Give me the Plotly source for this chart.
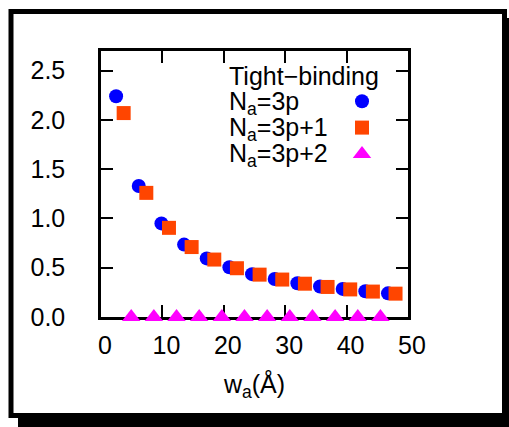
import plotly.graph_objects as go

# ---- data ----
w_3p = [2.46, 6.15, 9.84, 13.53, 17.22, 20.91, 24.60, 28.29, 31.98, 35.67, 39.36, 43.05, 46.74]
gap_3p = [2.24, 1.33, 0.95, 0.735, 0.595, 0.505, 0.435, 0.385, 0.343, 0.31, 0.285, 0.262, 0.24]

w_3p1 = [3.69, 7.38, 11.07, 14.76, 18.45, 22.14, 25.83, 29.52, 33.21, 36.90, 40.59, 44.28, 47.97]
gap_3p1 = [2.07, 1.26, 0.905, 0.71, 0.583, 0.495, 0.43, 0.38, 0.338, 0.305, 0.28, 0.258, 0.237]

w_3p2 = [4.92, 8.61, 12.30, 15.99, 19.68, 23.37, 27.06, 30.75, 34.44, 38.13, 41.82, 45.51]
gap_3p2 = [0.0, 0.0, 0.0, 0.0, 0.0, 0.0, 0.0, 0.0, 0.0, 0.0, 0.0, 0.0]

x_ticks = [0, 10, 20, 30, 40, 50]
y_ticks = [0.0, 0.5, 1.0, 1.5, 2.0, 2.5]

legend_title = "Tight\u2212binding"
series_labels = ["N<sub>a</sub>=3p", "N<sub>a</sub>=3p+1", "N<sub>a</sub>=3p+2"]

# ---- layout geometry ----
W, H = 509, 427
L, R, T, B = 101, 101, 51, 110
PW, PH = W - L - R, H - T - B
FONT = "Liberation Sans, Arial, sans-serif"


def px_x(px):
    return (px - L) / PW


def px_y(py):
    return (H - B - py) / PH


fig = go.Figure()
fig.add_trace(go.Scatter(x=w_3p, y=gap_3p, mode="markers", name=" ",
                         marker=dict(symbol="circle", size=14, color="#0000FF", line=dict(width=0)),
                         cliponaxis=False))
fig.add_trace(go.Scatter(x=w_3p1, y=gap_3p1, mode="markers", name=" ",
                         marker=dict(symbol="square", size=14, color="#FF4500", line=dict(width=0)),
                         cliponaxis=False))
fig.add_trace(go.Scatter(x=w_3p2, y=gap_3p2, mode="markers", name=" ",
                         marker=dict(symbol="triangle-up", size=16, color="#FF00FF", line=dict(width=0)),
                         cliponaxis=False))

shapes = [
    # drop shadow
    dict(type="rect", xref="paper", yref="paper", layer="below",
         x0=px_x(18), x1=px_x(560), y0=px_y(18), y1=px_y(470),
         fillcolor="black", line=dict(width=0)),
    # framed white box
    dict(type="rect", xref="paper", yref="paper", layer="below",
         x0=px_x(11), x1=px_x(504.5), y0=px_y(11.5), y1=px_y(415.5),
         fillcolor="white", line=dict(color="black", width=5)),
]

annotations = [
    dict(text=legend_title, xref="paper", yref="paper", x=px_x(227), y=px_y(76),
         xanchor="left", yanchor="middle", showarrow=False,
         font=dict(family=FONT, size=25, color="black")),
]
for i, lab in enumerate(series_labels):
    annotations.append(dict(text=lab, xref="paper", yref="paper", x=px_x(227), y=px_y(103 + 25.8 * i),
                            xanchor="left", yanchor="middle", showarrow=False,
                            font=dict(family=FONT, size=25, color="black")))

axis_common = dict(showline=True, linecolor="black", linewidth=2.5, mirror="ticks",
                   ticks="inside", ticklen=12, tickwidth=2, tickcolor="black",
                   showgrid=False, zeroline=False, layer="below traces",
                   tickfont=dict(family=FONT, size=25, color="black"))

fig.update_layout(
    width=W, height=H,
    margin=dict(l=L, r=R, t=T, b=B, pad=0),
    paper_bgcolor="white", plot_bgcolor="rgba(0,0,0,0)",
    font=dict(family=FONT, size=25, color="black"),
    shapes=shapes, annotations=annotations,
    showlegend=True,
    legend=dict(x=px_x(342), y=px_y(83), xanchor="left", yanchor="top",
                bgcolor="rgba(0,0,0,0)", borderwidth=0,
                font=dict(family=FONT, size=18), tracegroupgap=0,
                itemwidth=30),
    xaxis=dict(range=[0, 50], tickvals=x_ticks, ticktext=[str(v) for v in x_ticks],
               ticklabelshift=4, ticklabelstandoff=4,
               title=dict(text="w<sub>a</sub>(\u00c5)", standoff=18,
                          font=dict(family=FONT, size=25, color="black")),
               **axis_common),
    yaxis=dict(range=[0, 2.7], tickvals=y_ticks, ticktext=[f"{v:.1f}" for v in y_ticks],
               ticklabelstandoff=28,
               **axis_common),
)

fig.write_html("out.html", config={"displayModeBar": False},
               post_script="document.body.style.margin='0';document.body.style.overflow='hidden';")
